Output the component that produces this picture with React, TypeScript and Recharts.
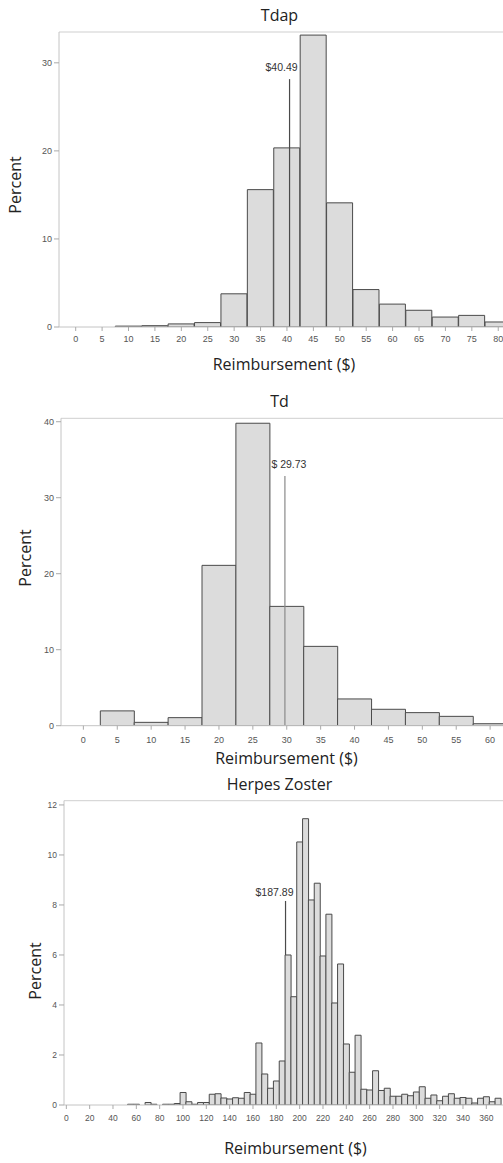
import React from 'react';
import { BarChart, Bar, XAxis, YAxis, ReferenceLine } from 'recharts';

// Tdap: percent of claims per $5 bin (bins centred on the value)
const TDAP_BINS = [0, 5, 10, 15, 20, 25, 30, 35, 40, 45, 50, 55, 60, 65, 70, 75, 80];
const TDAP_PCT = [0, 0, 0.1, 0.15, 0.35, 0.5, 3.77, 15.6, 20.34, 33.15, 14.1, 4.25, 2.6, 1.9, 1.13, 1.32, 0.57];
const TDAP_X_TICKS = [0, 5, 10, 15, 20, 25, 30, 35, 40, 45, 50, 55, 60, 65, 70, 75, 80];
const TDAP_Y_TICKS = [0, 10, 20, 30];
const TDAP_MEDIAN = 40.49;

// Td
const TD_BINS = [0, 5, 10, 15, 20, 25, 30, 35, 40, 45, 50, 55, 60];
const TD_PCT = [0, 1.95, 0.44, 1.06, 21.1, 39.8, 15.7, 10.44, 3.52, 2.16, 1.72, 1.23, 0.26];
const TD_X_TICKS = [0, 5, 10, 15, 20, 25, 30, 35, 40, 45, 50, 55, 60];
const TD_Y_TICKS = [0, 10, 20, 30, 40];
const TD_MEDIAN = 29.73;

// Herpes Zoster
const HZ_BINS = [
  0, 5, 10, 15, 20, 25, 30, 35, 40, 45, 50, 55, 60, 65, 70, 75, 80, 85, 90, 95,
  100, 105, 110, 115, 120, 125, 130, 135, 140, 145, 150, 155, 160, 165, 170, 175, 180, 185, 190, 195,
  200, 205, 210, 215, 220, 225, 230, 235, 240, 245, 250, 255, 260, 265, 270, 275, 280, 285, 290, 295,
  300, 305, 310, 315, 320, 325, 330, 335, 340, 345, 350, 355, 360, 365, 370,
];
const HZ_PCT = [
  0, 0, 0, 0, 0, 0, 0, 0, 0, 0, 0, 0.03, 0.03, 0, 0.1, 0.03, 0, 0.03, 0.03, 0.06,
  0.5, 0.13, 0.03, 0.1, 0.1, 0.43, 0.45, 0.28, 0.24, 0.29, 0.27, 0.5, 0.43, 2.48, 1.24, 0.67, 0.96, 1.76, 6.0, 4.33,
  10.52, 11.45, 8.2, 8.87, 5.96, 7.63, 4.08, 5.64, 2.44, 1.31, 2.79, 0.63, 0.6, 1.37, 0.58, 0.67, 0.35, 0.35, 0.43, 0.37,
  0.52, 0.73, 0.27, 0.4, 0.17, 0.35, 0.45, 0.27, 0.3, 0.27, 0.08, 0.27, 0.33, 0.13, 0.27,
];
const HZ_X_TICKS = [0, 20, 40, 60, 80, 100, 120, 140, 160, 180, 200, 220, 240, 260, 280, 300, 320, 340, 360];
const HZ_Y_TICKS = [0, 2, 4, 6, 8, 10, 12];
const HZ_MEDIAN = 187.89;

const TICK_FONT = 'Liberation Sans, Arial, sans-serif';
const TITLE_FONT = 'Open Sans, sans-serif';

type HistProps = {
  top: number;
  height: number;
  marginTop: number;
  axisLeft: number;
  xAxisHeight: number;
  xDomain: [number, number];
  yDomain: [number, number];
  xTicks: number[];
  yTicks: number[];
  bins: number[];
  pct: number[];
  median: number;
  medianText: string;
  lineFrom: number;
  lineTo: number;
  lineColor: string;
  labelDx: number;
  labelGap: number;
  xTickMargin: number;
  tickFont: number;
};

const Histogram: React.FC<HistProps> = (p) => {
  const data = p.bins.map((b, i) => ({ bin: b, pct: p.pct[i] }));
  const tick = { fontSize: p.tickFont, fill: '#555', fontFamily: TICK_FONT };
  return (
    <div style={{ position: 'absolute', left: 0, top: p.top, width: 503, height: p.height }}>
      <BarChart
        width={503}
        height={p.height}
        data={data}
        barCategoryGap={0}
        barGap={0}
        margin={{ top: p.marginTop, right: 0, bottom: 0, left: 0 }}
      >
        <XAxis
          dataKey="bin"
          type="number"
          domain={p.xDomain}
          ticks={p.xTicks}
          allowDataOverflow
          interval={0}
          height={p.xAxisHeight}
          tick={tick}
          tickSize={4}
          tickMargin={p.xTickMargin}
          stroke="#c4c4c4"
          tickLine={{ stroke: '#aaa' }}
        />
        <YAxis
          type="number"
          domain={p.yDomain}
          ticks={p.yTicks}
          allowDataOverflow
          interval={0}
          width={p.axisLeft}
          tick={tick}
          tickSize={5}
          tickMargin={2}
          stroke="#c4c4c4"
          tickLine={{ stroke: '#aaa' }}
        />
        <ReferenceLine y={p.yDomain[1]} stroke="#cfcfcf" strokeWidth={1} />
        <Bar dataKey="pct" fill="#dcdcdc" stroke="#4a4a4a" strokeWidth={1} isAnimationActive={false} />
        <ReferenceLine
          segment={[{ x: p.median, y: p.lineFrom }, { x: p.median, y: p.lineTo }]}
          stroke={p.lineColor}
          strokeWidth={1.2}
          label={(lp: any) => {
            const vb = lp.viewBox || {};
            return (
              <text
                x={(vb.x ?? 0) + p.labelDx}
                y={(vb.y ?? 0) - p.labelGap}
                textAnchor="middle"
                fontSize={10.5}
                fill="#333"
                fontFamily={TICK_FONT}
              >
                {p.medianText}
              </text>
            );
          }}
        />
      </BarChart>
    </div>
  );
};

const App: React.FC = () => {
  return (
    <div style={{ position: 'absolute', left: 0, top: 0, width: 503, height: 1163, background: '#fff' }}>
      <Histogram
        top={0}
        height={375}
        marginTop={32}
        axisLeft={59}
        xAxisHeight={48}
        xDomain={[-3.16, 80.9]}
        yDomain={[0, 33.5]}
        xTicks={TDAP_X_TICKS}
        yTicks={TDAP_Y_TICKS}
        bins={TDAP_BINS}
        pct={TDAP_PCT}
        median={TDAP_MEDIAN}
        medianText="$40.49"
        lineFrom={0}
        lineTo={28.15}
        lineColor="#4a4a4a"
        labelDx={-8}
        labelGap={8.5}
        xTickMargin={5}
        tickFont={9}
      />
      <Histogram
        top={380}
        height={380}
        marginTop={38.3}
        axisLeft={61}
        xAxisHeight={34.3}
        xDomain={[-3.3, 61.9]}
        yDomain={[0, 40.45]}
        xTicks={TD_X_TICKS}
        yTicks={TD_Y_TICKS}
        bins={TD_BINS}
        pct={TD_PCT}
        median={TD_MEDIAN}
        medianText="$ 29.73"
        lineFrom={0}
        lineTo={32.86}
        lineColor="#8a8a8a"
        labelDx={4}
        labelGap={7.5}
        xTickMargin={7}
        tickFont={9}
      />
      <Histogram
        top={770}
        height={393}
        marginTop={30.7}
        axisLeft={64}
        xAxisHeight={58}
        xDomain={[-2, 374.3]}
        yDomain={[0, 12.17]}
        xTicks={HZ_X_TICKS}
        yTicks={HZ_Y_TICKS}
        bins={HZ_BINS}
        pct={HZ_PCT}
        median={HZ_MEDIAN}
        medianText="$187.89"
        lineFrom={6.0}
        lineTo={8.16}
        lineColor="#4a4a4a"
        labelDx={-11}
        labelGap={5}
        xTickMargin={6}
        tickFont={8.5}
      />
      <svg
        width={503}
        height={1163}
        style={{ position: 'absolute', left: 0, top: 0, pointerEvents: 'none' }}
        fontFamily={TITLE_FONT}
        fontSize={16}
        fill="#222"
      >
        <text x={279.5} y={21} textAnchor="middle">Tdap</text>
        <text x={284} y={370} textAnchor="middle">Reimbursement ($)</text>
        <text transform="translate(20.5,185) rotate(-90)" textAnchor="middle">Percent</text>

        <text x={279.5} y={407} textAnchor="middle">Td</text>
        <text x={286.5} y={763.5} textAnchor="middle">Reimbursement ($)</text>
        <text transform="translate(30.5,558) rotate(-90)" textAnchor="middle">Percent</text>

        <text x={279.5} y={790} textAnchor="middle">Herpes Zoster</text>
        <text x={295.5} y={1154} textAnchor="middle">Reimbursement ($)</text>
        <text transform="translate(40.5,971) rotate(-90)" textAnchor="middle">Percent</text>
      </svg>
    </div>
  );
};

export default App;
